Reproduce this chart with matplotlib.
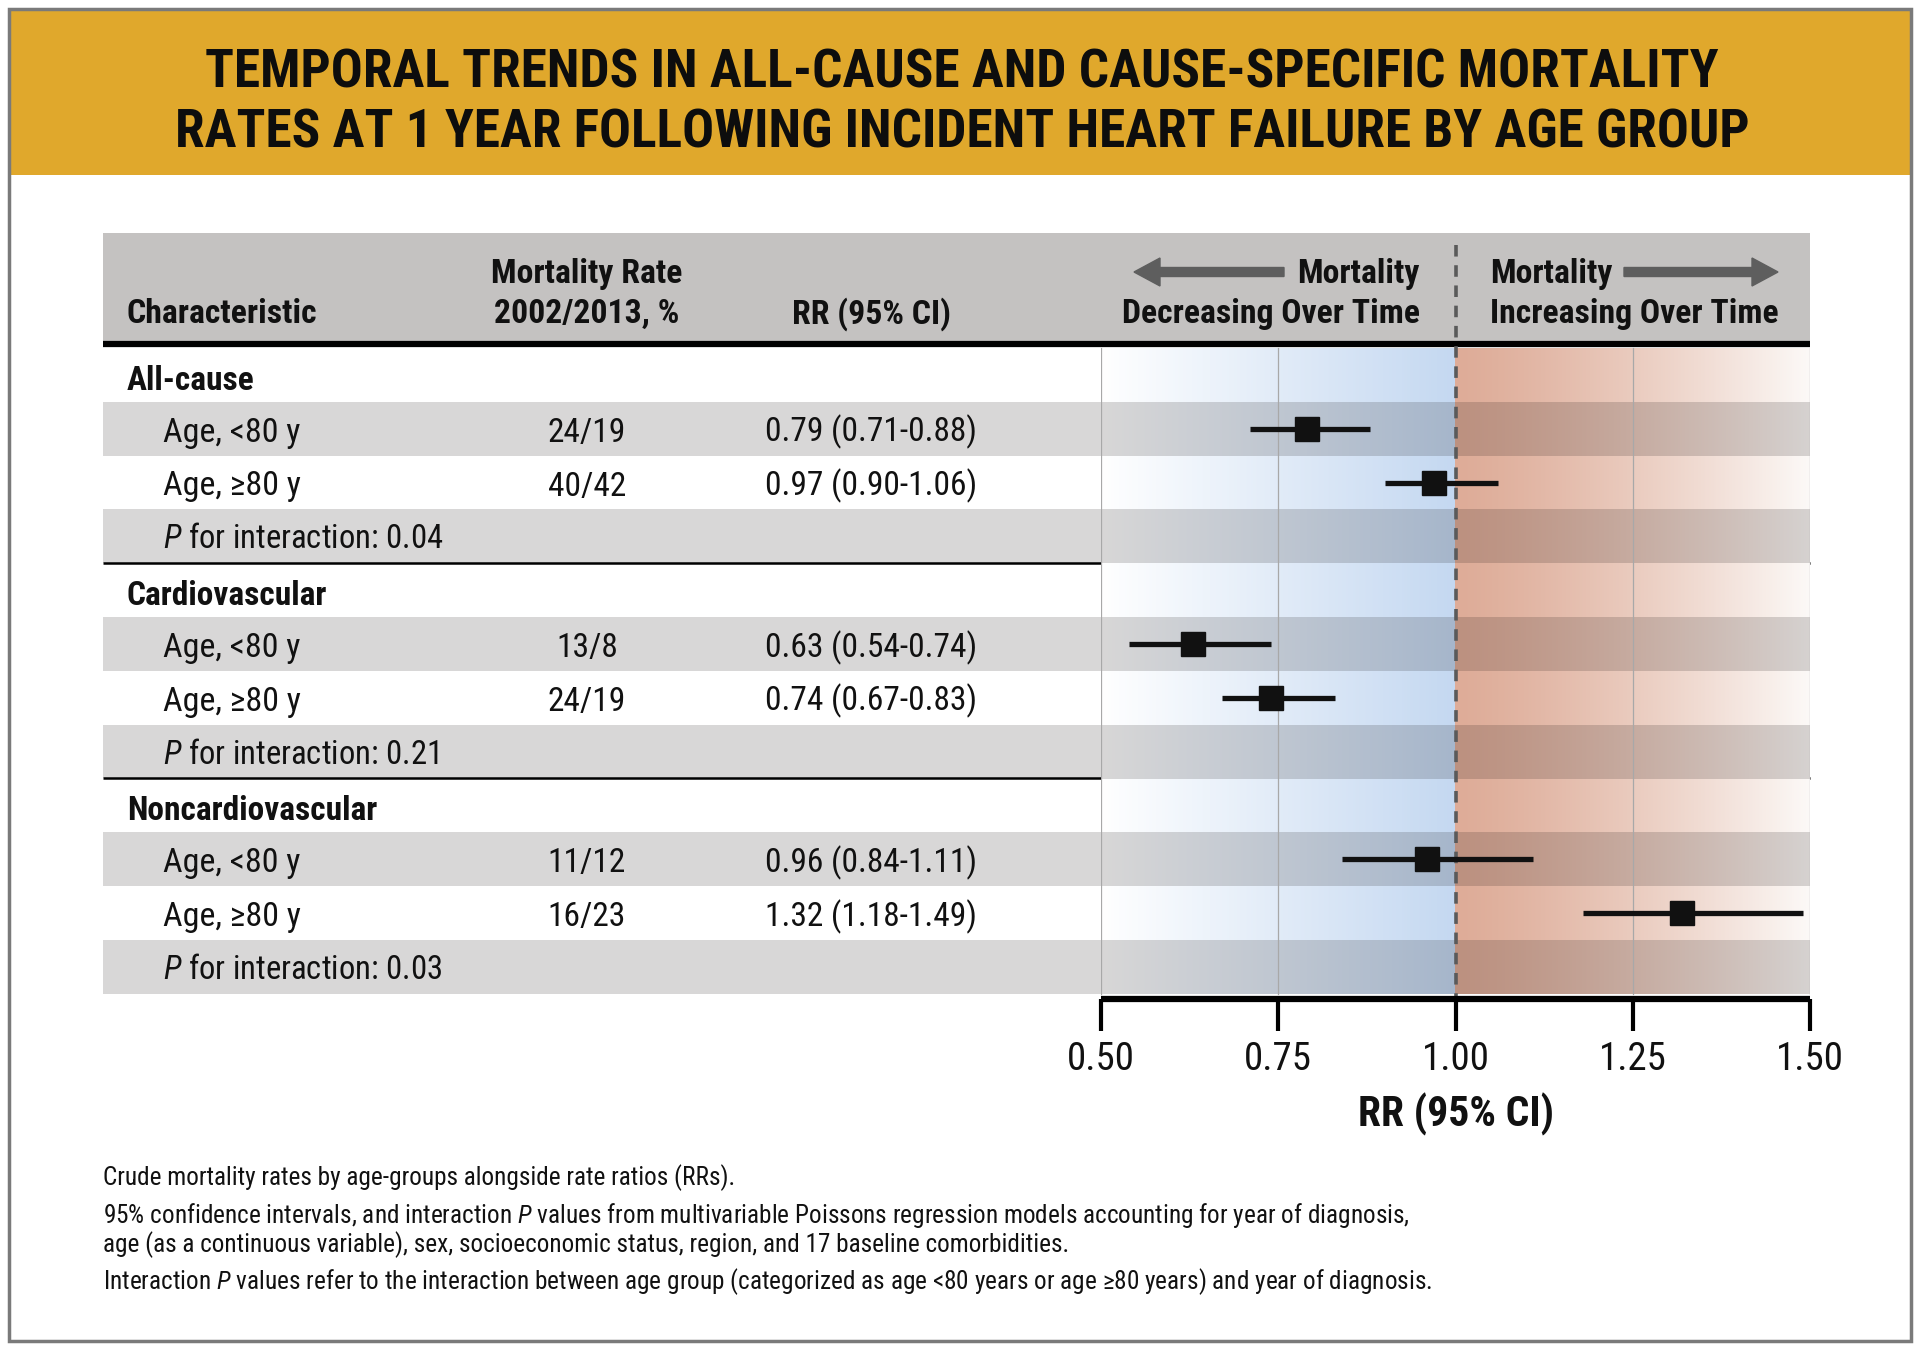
import numpy as np
import matplotlib
matplotlib.use("Agg")
import matplotlib.pyplot as plt
from matplotlib import font_manager as fm
from matplotlib.patches import Rectangle, FancyArrow

# ---------------- data ----------------
title_lines = ["TEMPORAL TRENDS IN ALL-CAUSE AND CAUSE-SPECIFIC MORTALITY",
               "RATES AT 1 YEAR FOLLOWING INCIDENT HEART FAILURE BY AGE GROUP"]
sections = ["All-cause", "Cardiovascular", "Noncardiovascular"]
subgroups = ["Age, <80 y", "Age, \u226580 y"]
rates = ["24/19", "40/42", "13/8", "24/19", "11/12", "16/23"]
rr = [0.79, 0.97, 0.63, 0.74, 0.96, 1.32]
rr_lo = [0.71, 0.90, 0.54, 0.67, 0.84, 1.18]
rr_hi = [0.88, 1.06, 0.74, 0.83, 1.11, 1.49]
p_values = ["0.04", "0.21", "0.03"]
x_ticks = [0.50, 0.75, 1.00, 1.25, 1.50]
x_tick_labels = ["0.50", "0.75", "1.00", "1.25", "1.50"]
footnotes = [
    "Crude mortality rates by age-groups alongside rate ratios (RRs).",
    "95% confidence intervals, and interaction $\\mathit{P}$ values from multivariable Poissons regression models accounting for year of diagnosis,",
    "age (as a continuous variable), sex, socioeconomic status, region, and 17 baseline comorbidities.",
    "Interaction $\\mathit{P}$ values refer to the interaction between age group (categorized as age <80 years or age \u226580 years) and year of diagnosis.",
]

# ---------------- fonts ----------------
avail = {f.name for f in fm.fontManager.ttflist}
def pick(cands):
    for c in cands:
        if c in avail:
            return c
    return "DejaVu Sans"
FONT = pick(["Roboto Condensed", "Liberation Sans Narrow", "Open Sans Condensed",
             "Arial Narrow", "Liberation Sans"])
FAM = [FONT, "DejaVu Sans"]
plt.rcParams["font.family"] = FAM
plt.rcParams["mathtext.fontset"] = "custom"
plt.rcParams["mathtext.rm"] = FONT
plt.rcParams["mathtext.it"] = FONT + ":italic"
plt.rcParams["mathtext.bf"] = FONT + ":bold"

# ---------------- layout (pixels) ----------------
W, H = 1920, 1350
fig = plt.figure(figsize=(W / 100, H / 100), dpi=100)
bg = fig.add_axes([0, 0, 1, 1])
bg.set_xlim(0, W)
bg.set_ylim(H, 0)
bg.axis("off")

TL, TR = 103, 1810          # table left / right
FX0, FX1 = 1101, 1810       # forest x range (0.5 .. 1.5)
ROW0, RH = 348, 53.8        # first row top, row height
NROWS = 12
HDR_TOP, HDR_BOT = 233, 341
AXIS_Y = 999
TXT = "#111111"

GOLD = "#E0A82C"
HDR_GRAY = "#C4C2C1"
ROW_GRAY = (216 / 255, 215 / 255, 215 / 255)

# frame and banner
bg.add_patch(Rectangle((10, 10), 1900, 165, facecolor=GOLD, edgecolor="none", zorder=1))
bg.add_patch(Rectangle((9, 9), 1902, 1332, facecolor="none", edgecolor="#7A7A7A", lw=2.5, zorder=5))
for i, line in enumerate(title_lines):
    bg.text(962, 88 + i * 59, line, ha="center", va="baseline", fontsize=38.3,
            fontweight="bold", color="#0d0d0d", zorder=3)

# header band
bg.add_patch(Rectangle((TL, HDR_TOP), TR - TL, HDR_BOT - HDR_TOP, facecolor=HDR_GRAY,
                       edgecolor="none", zorder=1))
bg.plot([TL, TR], [343.5, 343.5], color="black", lw=4.5, solid_capstyle="butt", zorder=4)

hy1, hy2 = 274, 314
hkw = dict(va="center", fontsize=24.3, fontweight="bold", color=TXT, zorder=3)
bg.text(127, hy2, "Characteristic", ha="left", **hkw)
bg.text(587, hy1, "Mortality Rate", ha="center", **hkw)
bg.text(587, hy2, "2002/2013, %", ha="center", **hkw)
bg.text(871, hy2, "RR (95% CI)", ha="center", **hkw)
bg.text(1420, hy1, "Mortality", ha="right", **hkw)
bg.text(1420, hy2, "Decreasing Over Time", ha="right", **hkw)
bg.text(1490, hy1, "Mortality", ha="left", **hkw)
bg.text(1490, hy2, "Increasing Over Time", ha="left", **hkw)
ARROW_C = "#5E5E5E"
bg.add_patch(FancyArrow(1284, 272, -150, 0, width=9, head_width=28, head_length=26,
                        length_includes_head=True, color=ARROW_C, zorder=3))
bg.add_patch(FancyArrow(1624, 272, 154, 0, width=9, head_width=28, head_length=26,
                        length_includes_head=True, color=ARROW_C, zorder=3))

# rows (table text + left backgrounds)
row_kinds = []
for s in range(len(sections)):
    row_kinds += ["sec", "sub", "sub", "p"]
gray_rows = [k in ("sub", "p") and (i % 2 == 1) for i, k in enumerate(row_kinds)]

for i in range(NROWS):
    if gray_rows[i]:
        bg.add_patch(Rectangle((TL, ROW0 + i * RH), FX0 - TL, RH, facecolor=ROW_GRAY,
                               edgecolor="none", zorder=1))

CAP = 12  # half cap height offset for baseline placement
data_rows = []
k = 0
for s, sec in enumerate(sections):
    base = s * 4
    yc = ROW0 + (base + 0.5) * RH + CAP + 3
    bg.text(127, yc, sec, ha="left", va="baseline", fontsize=24, fontweight="bold", color=TXT, zorder=3)
    for j, sg in enumerate(subgroups):
        r = base + 1 + j
        yc = ROW0 + (r + 0.5) * RH + CAP + 1
        bg.text(163, yc, sg, ha="left", va="baseline", fontsize=24.5, color=TXT, zorder=3)
        bg.text(587, yc, rates[k], ha="center", va="baseline", fontsize=24, color=TXT, zorder=3)
        bg.text(871, yc, f"{rr[k]:.2f} ({rr_lo[k]:.2f}-{rr_hi[k]:.2f})", ha="center", va="baseline",
                fontsize=24, color=TXT, zorder=3)
        data_rows.append(r + 0.5)
        k += 1
    r = base + 3
    yc = ROW0 + (r + 0.5) * RH + CAP
    bg.text(163, yc, f"$\\mathit{{P}}$ for interaction: {p_values[s]}", ha="left", va="baseline",
            fontsize=23.5, color=TXT, zorder=3)
    if s < len(sections) - 1:
        ly = ROW0 + (base + 4) * RH
        bg.plot([TL, TR], [ly, ly], color="black", lw=1.8, solid_capstyle="butt", zorder=4)

# footnotes
for y, t in zip([1178, 1216, 1245, 1282], footnotes):
    bg.text(103, y, t, ha="left", va="center", fontsize=18.2, color=TXT, zorder=3)

# ---------------- forest axes ----------------
ax = fig.add_axes([FX0 / W, 1 - AXIS_Y / H, (FX1 - FX0) / W, (AXIS_Y - HDR_TOP) / H])
ax.patch.set_alpha(0)
ax.set_xlim(0.5, 1.5)
ax.set_ylim((AXIS_Y - ROW0) / RH, (HDR_TOP - ROW0) / RH)

# gradient background (blue for <1, salmon for >1), darkened on gray rows
N = 500
xs = np.linspace(0.5, 1.5, N)
blue_end = np.array([196, 216, 241]) / 255
sal_start = np.array([222, 172, 152]) / 255
sal_end = np.array([252, 249, 247]) / 255
grad = np.zeros((N, 3))
left = xs < 1.0
t = (xs[left] - 0.5) / 0.5
grad[left] = (1 - t)[:, None] * np.ones(3) + t[:, None] * blue_end
t2 = ((xs[~left] - 1.0) / 0.5) ** 1.3
grad[~left] = (1 - t2)[:, None] * sal_start + t2[:, None] * sal_end
img = np.zeros((NROWS, N, 3))
for i in range(NROWS):
    img[i] = grad * (np.array(ROW_GRAY) if gray_rows[i] else 1.0)
ax.imshow(img, extent=(0.5, 1.5, NROWS, 0), aspect="auto", interpolation="nearest", zorder=0)

for gx in [0.5, 0.75, 1.25, 1.5]:
    ax.plot([gx, gx], [0, NROWS], color="#A8A8A8", lw=0.9, zorder=1)
ax.plot([1.0, 1.0], [(245 - ROW0) / RH, (AXIS_Y - ROW0) / RH], color="#5A5A5A", lw=2.6,
        dashes=(3.2, 2.4), zorder=2)

rr_a = np.array(rr)
ax.errorbar(rr_a, data_rows, xerr=[rr_a - np.array(rr_lo), np.array(rr_hi) - rr_a],
            fmt="s", ms=17, color="black", mfc="#111111", mec="#111111", ecolor="#111111",
            elinewidth=3.8, capsize=0, zorder=5)

for sp in ["top", "left", "right"]:
    ax.spines[sp].set_visible(False)
ax.spines["bottom"].set_linewidth(4.5)
ax.spines["bottom"].set_capstyle("butt")
ax.set_yticks([])
ax.set_xticks(x_ticks)
ax.set_xticklabels(x_tick_labels, fontsize=28, color=TXT)
ax.tick_params(axis="x", direction="out", length=23, width=3, pad=7, color="black")

bg.text(1456, 1114, "RR (95% CI)", ha="center", va="center", fontsize=30, fontweight="bold",
        color=TXT, zorder=3)

fig.savefig("out.png", dpi=100)
